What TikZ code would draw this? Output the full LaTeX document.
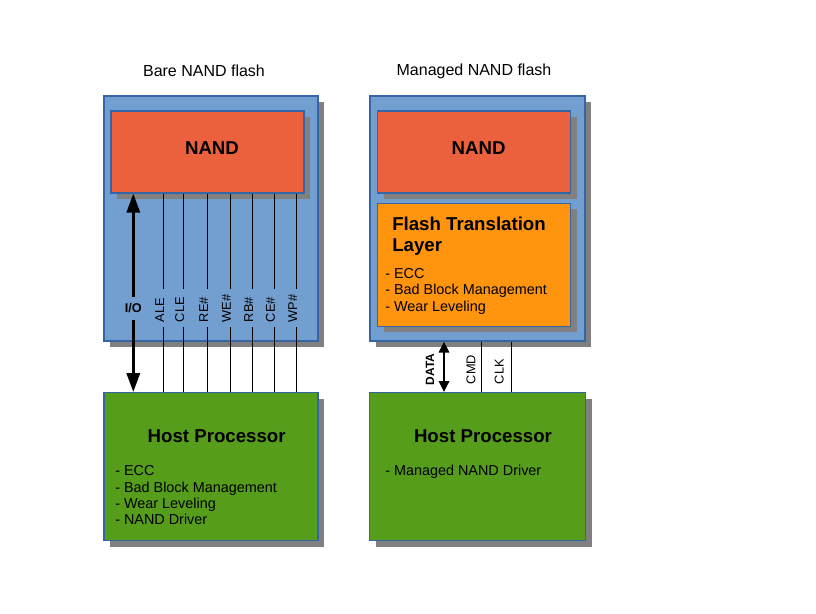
\documentclass[tikz,border=0pt]{standalone}
\usepackage{fontspec}
\setmainfont{Liberation Sans}
\usetikzlibrary{arrows.meta,shadows}
\definecolor{bluebg}{HTML}{729FCF}
\definecolor{nandred}{HTML}{EB613D}
\definecolor{ftlorange}{HTML}{FF950E}
\definecolor{hostgreen}{HTML}{579D1C}
\definecolor{bordercol}{HTML}{3465A4}
\definecolor{shadowcol}{HTML}{808080}
\tikzset{
  box/.style={draw=bordercol, line width=0.8pt, inner sep=0pt, anchor=center,
    drop shadow={shadow xshift=4.5pt, shadow yshift=-4.5pt, fill=shadowcol, opacity=1}},
  bluebox/.style={box, fill=bluebg},
  nandbox/.style={box, fill=nandred},
  ftlbox/.style={box, fill=ftlorange},
  hostbox/.style={box, fill=hostgreen},
  maintitle/.style={font=\fontsize{12}{14}\selectfont, anchor=base, inner sep=0pt},
  bigtitle/.style={font=\bfseries\fontsize{14}{16}\selectfont, anchor=base, inner sep=0pt},
  bigleft/.style={bigtitle, anchor=base west},
  item/.style={font=\fontsize{10.8}{12}\selectfont, anchor=base west, inner sep=0pt},
  sig/.style={font=\fontsize{9.6}{10}\selectfont, rotate=90, anchor=west, inner sep=0pt},
  sigbold/.style={sig, font=\bfseries\fontsize{9}{10}\selectfont},
  thinline/.style={line width=0.75pt, black},
  fatarrow/.style={line width=2.4pt, black},
}
\begin{document}
\begin{tikzpicture}[x=0.75pt, y=-0.75pt]
\useasboundingbox (0,0) rectangle (816,613);

% titles
\node[maintitle] (tL) at (204,76.7) {Bare NAND flash};
\node[maintitle] (tR) at (474,75.7) {Managed NAND flash};

% left side boxes
\node[bluebox, minimum width=160.5pt, minimum height=183.75pt] (blueL) at (211,218.5) {};
\node[nandbox, minimum width=144.75pt, minimum height=61.5pt] (nandL) at (207.5,152) {};
\node[hostbox, minimum width=160.5pt, minimum height=111.2pt] (hostL) at (211,466.8) {};

% right side boxes
\node[bluebox, minimum width=161.25pt, minimum height=183.75pt] (blueR) at (477.5,218.5) {};
\node[nandbox, minimum width=144.75pt, minimum height=61.5pt] (nandR) at (474.2,152) {};
\node[ftlbox, minimum width=144.75pt, minimum height=92pt] (ftl) at (474.2,264.7) {};
\node[hostbox, minimum width=161.8pt, minimum height=111.2pt] (hostR) at (477.8,466.8) {};

% texts in boxes
\node[bigtitle] (nandLt) at (212,154) {NAND};
\node[bigtitle] (nandRt) at (478.7,154) {NAND};
\node[bigtitle] (hostLt) at (216.7,442.7) {Host Processor};
\node[bigtitle] (hostRt) at (483,442.7) {Host Processor};
\node[bigleft] (ftlt1) at (392,230.7) {Flash Translation};
\node[bigleft] (ftlt2) at (392,251.7) {Layer};

\node[item] (li1) at (115,475.7) {- ECC};
\node[item] (li2) at (115,492.0) {- Bad Block Management};
\node[item] (li3) at (115,508.3) {- Wear Leveling};
\node[item] (li4) at (115,524.6) {- NAND Driver};

\node[item] (fi1) at (385,278.3) {- ECC};
\node[item] (fi2) at (385,294.8) {- Bad Block Management};
\node[item] (fi3) at (385,311.3) {- Wear Leveling};

\node[item] (ri1) at (385,475.7) {- Managed NAND Driver};

% left signal lines
\foreach \xx/\lab/\nm in {163.3/ALE/a, 183.3/CLE/b, 207.3/RE\#/c, 230/WE\#/d, 252.3/RB\#/e, 274/CE\#/f, 296.3/WP\#/g}{
  \coordinate (st\nm) at (\xx,289);
  \coordinate (sb\nm) at (\xx,327);
  \node[sig] (sl\nm) at (\xx-3.5,322.5) {\lab};
  \draw[thinline] (nandL.south -| st\nm) -- (st\nm);
  \draw[thinline] (sb\nm) -- (hostL.north -| sb\nm);
}

% I/O arrow
\coordinate (iot) at (133.3,296.7);
\coordinate (iob) at (133.3,320);
\node[font=\bfseries\fontsize{9.5}{11}\selectfont, inner sep=0pt] (iol) at (133.3,308.3) {I/O};
\draw[fatarrow, -{Triangle[length=14.25pt, width=9.75pt]}] (iot) -- (nandL.south -| iot);
\draw[fatarrow, -{Triangle[length=14.25pt, width=9.75pt]}] (iob) -- (hostL.north -| iob);

% right connectors
\coordinate (dc) at (444,360);
\coordinate (cmdc) at (481.3,360);
\coordinate (clkc) at (511.3,360);
\draw[fatarrow, line width=2.2pt, {Triangle[length=8.25pt, width=7.5pt]}-{Triangle[length=8.25pt, width=7.5pt]}] (blueR.south -| dc) -- (hostR.north -| dc);
\draw[thinline] (blueR.south -| cmdc) -- (hostR.north -| cmdc);
\draw[thinline] (blueR.south -| clkc) -- (hostR.north -| clkc);
\node[sigbold] (datal) at (430,385.5) {DATA};
\node[sig] (cmdl) at (471,384.5) {CMD};
\node[sig] (clkl) at (499.3,384.5) {CLK};
\end{tikzpicture}
\end{document}
